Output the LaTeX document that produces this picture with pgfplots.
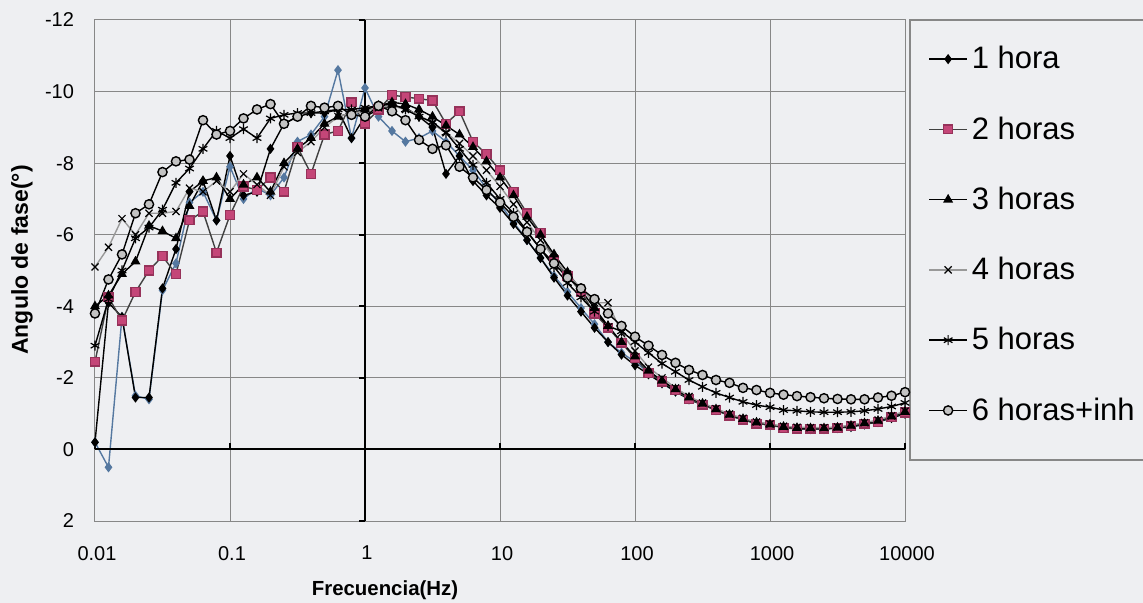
\documentclass[border=0pt]{standalone}
\usepackage{fontspec}
\setmainfont{Liberation Sans}
\usepackage{pgfplots}
\usepackage{pgfplotstable}
\pgfplotsset{compat=1.18}
\definecolor{bg}{RGB}{238,239,242}
\definecolor{pinkm}{RGB}{196,70,120}
\definecolor{pinkd}{RGB}{150,50,90}
\definecolor{bluem}{RGB}{85,120,160}
\definecolor{gridc}{RGB}{135,135,135}
\definecolor{graym}{RGB}{195,195,195}

\pgfplotstableread{
f        A      B      C      D      E      F      G
0.01     -0.2   -2.45  -4.0   -5.1   -2.9   -3.8   -0.2
0.012589 -4.1   -4.25  -4.3   -5.65  -4.2   -4.75  0.5
0.015849 -3.7   -3.6   -4.9   -6.45  -5.0   -5.45  -3.7
0.019953 -1.45  -4.4   -5.25  -6.0   -5.9   -6.6   -1.5
0.025119 -1.45  -5.0   -6.25  -6.6   -6.2   -6.85  -1.4
0.031623 -4.5   -5.4   -6.1   -6.6   -6.7   -7.75  -4.45
0.039811 -5.6   -4.9   -5.9   -6.65  -7.45  -8.05  -5.2
0.050119 -7.2   -6.4   -6.8   -7.3   -7.85  -8.1   -6.9
0.063096 -7.5   -6.65  -7.5   -7.2   -8.4   -9.2   -7.2
0.079433 -6.4   -5.5   -7.6   -7.5   -8.9   -8.8   -6.4
0.1      -8.2   -6.55  -7.0   -7.2   -8.7   -8.9   -7.9
0.12589  -7.1   -7.35  -7.4   -7.7   -8.95  -9.25  -7.0
0.15849  -7.2   -7.25  -7.6   -7.4   -8.7   -9.5   -7.3
0.19953  -8.4   -7.6   -7.2   -7.1   -9.25  -9.65  -7.1
0.25119  -9.1   -7.2   -8.0   -7.9   -9.35  -9.1   -7.6
0.31623  -9.3   -8.45  -8.4   -8.3   -9.4   -9.3   -8.6
0.39811  -9.4   -7.7   -8.7   -8.6   -9.4   -9.6   -8.8
0.50119  -9.4   -8.8   -9.1   -9.0   -9.45  -9.55  -9.3
0.63096  -9.5   -8.9   -9.3   -9.3   -9.5   -9.6   -10.6
0.79433  -8.7   -9.7   -9.4   -9.4   -9.5   -9.35  -8.7
1        -9.3   -9.1   -9.5   -9.45  -9.55  -9.3   -10.1
1.2589   -9.5   -9.5   -9.6   -9.55  -9.6   -9.6   -9.3
1.5849   -9.6   -9.9   -9.7   -9.6   -9.65  -9.45  -8.9
1.9953   -9.55  -9.85  -9.65  -9.5   -9.5   -9.2   -8.6
2.5119   -9.3   -9.8   -9.5   -9.35  -9.3   -8.65  -8.7
3.1623   -9.0   -9.75  -9.3   -9.1   -9.15  -8.4   -8.9
3.9811   -7.7   -9.1   -9.05  -8.85  -8.85  -8.5   -8.6
5.0119   -8.2   -9.45  -8.8   -8.55  -8.4   -7.9   -8.2
6.3096   -7.5   -8.6   -8.45  -8.2   -7.95  -7.6   -7.8
7.9433   -7.1   -8.25  -8.05  -7.8   -7.45  -7.25  -7.3
10       -6.75  -7.8   -7.6   -7.35  -7.0   -6.9   -6.85
12.589   -6.3   -7.2   -7.1   -6.85  -6.6   -6.5   -6.35
15.849   -5.85  -6.6   -6.5   -6.35  -6.1   -6.08  -5.85
19.953   -5.35  -6.05  -6.0   -5.85  -5.6   -5.6   -5.35
25.119   -4.8   -5.3   -5.45  -5.35  -5.1   -5.2   -4.85
31.623   -4.3   -4.85  -4.95  -4.9   -4.65  -4.8   -4.4
39.811   -3.85  -4.4   -4.45  -4.5   -4.25  -4.5   -3.95
50.119   -3.4   -3.8   -3.95  -4.1   -3.85  -4.2   -3.5
63.096   -3.0   -3.4   -3.45  -4.1   -3.45  -3.8   -3.0
79.433   -2.65  -2.98  -3.0   -3.25  -3.3   -3.45  -2.7
100      -2.35  -2.55  -2.6   -2.75  -3.0   -3.15  -2.45
125.89   -2.1   -2.14  -2.2   -2.3   -2.7   -2.9   -2.15
158.49   -1.85  -1.9   -1.92  -2.0   -2.4   -2.64  -1.85
199.53   -1.62  -1.66  -1.68  -1.72  -2.17  -2.42  -1.62
251.19   -1.4   -1.4   -1.45  -1.48  -1.94  -2.22  -1.4
316.23   -1.25  -1.25  -1.28  -1.3   -1.75  -2.08  -1.25
398.11   -1.1   -1.1   -1.12  -1.14  -1.58  -1.94  -1.1
501.19   -0.95  -0.94  -0.97  -0.99  -1.45  -1.86  -0.95
630.96   -0.83  -0.83  -0.85  -0.87  -1.33  -1.72  -0.83
794.33   -0.73  -0.72  -0.75  -0.77  -1.24  -1.66  -0.73
1000     -0.68  -0.69  -0.7   -0.71  -1.18  -1.58  -0.68
1258.9   -0.62  -0.6   -0.63  -0.65  -1.1   -1.53  -0.62
1584.9   -0.58  -0.58  -0.6   -0.62  -1.08  -1.49  -0.58
1995.3   -0.57  -0.58  -0.59  -0.61  -1.05  -1.46  -0.57
2511.9   -0.57  -0.58  -0.59  -0.61  -1.04  -1.43  -0.57
3162.3   -0.6   -0.6   -0.61  -0.63  -1.04  -1.41  -0.6
3981.1   -0.63  -0.66  -0.66  -0.68  -1.05  -1.4   -0.63
5011.9   -0.7   -0.72  -0.73  -0.75  -1.08  -1.4   -0.7
6309.6   -0.77  -0.77  -0.8   -0.82  -1.13  -1.45  -0.77
7943.3   -0.88  -0.91  -0.92  -0.94  -1.2   -1.5   -0.88
10000    -1.0   -1.03  -1.05  -1.07  -1.3   -1.6   -1.0
}\data

\begin{document}
\begin{tikzpicture}
\fill[bg] (0pt,0pt) rectangle (571.5pt,301.5pt);
\draw[gridc, line width=0.6pt] (455pt,71.5pt) rectangle (580pt,291.5pt);
\begin{axis}[
  at={(47.5pt,41pt)}, anchor=south west,
  scale only axis, width=405pt, height=250.5pt,
  xmode=log, xmin=0.01, xmax=10000,
  ymin=-12, ymax=2, y dir=reverse,
  xtick={0.01,0.1,1,10,100,1000,10000},
  xticklabels={0.01,0.1,1,10,100,1000,10000},
  ytick={-12,-10,-8,-6,-4,-2,0,2},
  /pgf/number format/assume math mode=true,
  grid=major,
  major grid style={gridc, line width=0.5pt},
  axis line style={gridc, line width=0.5pt},
  major tick length=0pt, minor tick length=0pt,
  tick label style={font=\fontsize{10}{12}\selectfont},
  xticklabel style={yshift=-9pt, xshift=1pt},
  yticklabel style={xshift=-7pt},
  legend style={at={(1.0062,1)}, anchor=north west, draw=none, fill=none,
    font=\fontsize{15.5}{18}\selectfont, row sep=18.4pt, inner xsep=9pt, inner ysep=11pt},
  legend cell align=left,
  legend image code/.code={\draw[mark repeat=2,mark phase=2] plot coordinates {(0pt,0pt) (9.5pt,0pt) (19pt,0pt)};},
  clip=false,
]
\addplot[forget plot, bluem, line width=0.7pt, mark=diamond*, mark size=2pt, mark options={fill=bluem, draw=bluem}] table[x=f, y=G] {\data};
\addplot[black, line width=0.7pt, mark=diamond*, mark size=2pt, mark options={fill=black}] table[x=f, y=A] {\data};
\addlegendentry{1 hora}
\addplot[black!75, line width=0.7pt, mark=square*, mark size=2.2pt, mark options={fill=pinkm, draw=pinkd}] table[x=f, y=B] {\data};
\addlegendentry{2 horas}
\addplot[black, line width=0.7pt, mark=triangle*, mark size=2.2pt, mark options={fill=black}] table[x=f, y=C] {\data};
\addlegendentry{3 horas}
\addplot[black!40, line width=0.7pt, mark=x, mark size=2.5pt, mark options={draw=black, line width=0.6pt}] table[x=f, y=D] {\data};
\addlegendentry{4 horas}
\addplot[black, line width=0.7pt, mark=asterisk, mark size=2.5pt, mark options={draw=black, line width=0.6pt}] table[x=f, y=E] {\data};
\addlegendentry{5 horas}
\addplot[black, line width=0.7pt, mark=*, mark size=2.3pt, mark options={fill=graym, draw=black}] table[x=f, y=F] {\data};
\addlegendentry{6 horas+inh}
\draw[black, line width=1pt] (axis cs:1,-12) -- (axis cs:1,2);
\draw[black, line width=1pt] (axis cs:0.01,0) -- (axis cs:10000,0);
\pgfplotsinvokeforeach{-12,-10,-8,-6,-4,-2,0,2}{\draw[black, line width=0.8pt] (axis cs:1,#1) -- ++(-3pt,0pt);}
\pgfplotsinvokeforeach{0.01,0.1,1,10,100,1000,10000}{\draw[black, line width=0.8pt] (axis cs:#1,0) -- ++(0pt,3pt);}
\end{axis}
\node[rotate=90, font=\bfseries\fontsize{11.5}{13}\selectfont] at (11pt,171.5pt) {Angulo de fase(°)};
\node[font=\bfseries\fontsize{10.2}{12}\selectfont] at (192.5pt,6.5pt) {Frecuencia(Hz)};
\pgfresetboundingbox
\path[use as bounding box] (0pt,0pt) rectangle (571.5pt,301.5pt);
\end{tikzpicture}
\end{document}
